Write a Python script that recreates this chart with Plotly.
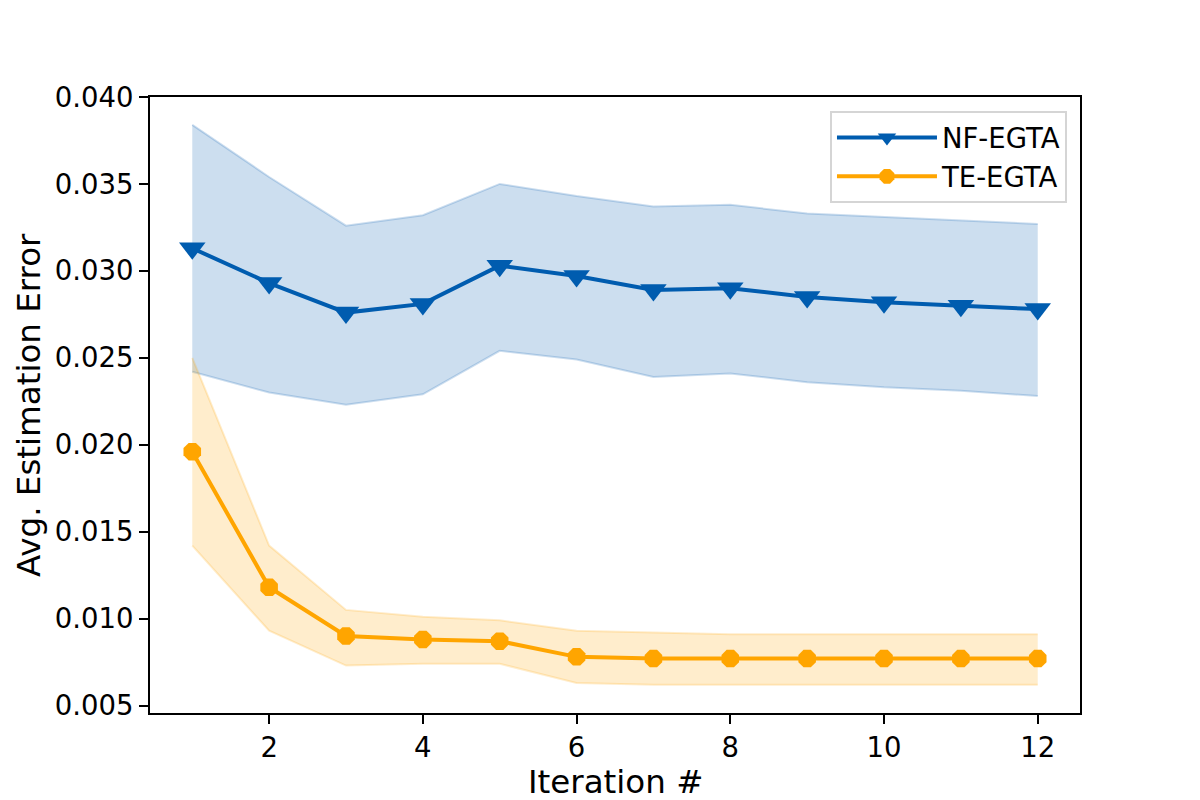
import plotly.graph_objects as go

# iteration numbers
iterations = list(range(1, 13))

# NF-EGTA: mean and band edges
nf_mean = [0.0313, 0.0293, 0.0276, 0.0281, 0.0303, 0.0297,
           0.0289, 0.0290, 0.0285, 0.0282, 0.0280, 0.0278]
nf_upper = [0.0384, 0.0354, 0.0326, 0.0332, 0.0350, 0.0343,
            0.0337, 0.0338, 0.0333, 0.0331, 0.0329, 0.0327]
nf_lower = [0.0242, 0.0230, 0.0223, 0.0229, 0.0254, 0.0249,
            0.0239, 0.0241, 0.0236, 0.0233, 0.0231, 0.0228]

# TE-EGTA: mean and band edges
te_mean = [0.0196, 0.0118, 0.0090, 0.0088, 0.0087, 0.0078,
           0.0077, 0.0077, 0.0077, 0.0077, 0.0077, 0.0077]
te_upper = [0.0250, 0.0142, 0.0105, 0.0101, 0.0099, 0.0093,
            0.0092, 0.0091, 0.0091, 0.0091, 0.0091, 0.0091]
te_lower = [0.0142, 0.0093, 0.0073, 0.0074, 0.0074, 0.0063,
            0.0062, 0.0062, 0.0062, 0.0062, 0.0062, 0.0062]

y_ticks = [0.005, 0.010, 0.015, 0.020, 0.025, 0.030, 0.035, 0.040]
x_ticks = [2, 4, 6, 8, 10, 12]

blue = "rgb(0,92,175)"
orange = "rgb(255,165,0)"
font = "DejaVu Sans"

fig = go.Figure()

# shaded bands
for lo, hi, rgb in [(nf_lower, nf_upper, "0,92,175"),
                    (te_lower, te_upper, "255,165,0")]:
    fig.add_trace(go.Scatter(
        x=iterations, y=lo, mode="lines",
        line=dict(color=f"rgba({rgb},0.2)", width=2),
        showlegend=False, hoverinfo="skip"
    ))
    fig.add_trace(go.Scatter(
        x=iterations, y=hi, mode="lines", fill="tonexty",
        fillcolor=f"rgba({rgb},0.2)",
        line=dict(color=f"rgba({rgb},0.2)", width=2),
        showlegend=False, hoverinfo="skip"
    ))

fig.add_trace(go.Scatter(
    x=iterations, y=nf_mean, mode="lines+markers", name="NF-EGTA",
    legendgroup="nf",
    line=dict(color=blue, width=4),
    marker=dict(symbol="triangle-down", size=23, color=blue)
))
fig.add_trace(go.Scatter(
    x=iterations, y=te_mean, mode="lines+markers", name="TE-EGTA",
    legendgroup="te",
    line=dict(color=orange, width=4),
    marker=dict(symbol="octagon", size=19, color=orange)
))

axis_style = dict(
    showgrid=False, zeroline=False, automargin=False,
    showline=True, linecolor="black", linewidth=2.2, mirror=True,
    ticks="outside", ticklen=9, tickwidth=2.2, tickcolor="black",
    tickfont=dict(family=font, size=27.5, color="black"),
)

# axis titles as annotations so their position can be set exactly
fig.add_annotation(text="Iteration #", xref="paper", yref="paper",
                   x=0.5, y=0, yanchor="middle", yshift=-69,
                   showarrow=False, borderpad=0,
                   font=dict(family=font, size=32.5))
fig.add_annotation(text="Avg. Estimation Error", xref="paper", yref="paper",
                   x=0, y=0.5, xanchor="center", xshift=-121, textangle=-90,
                   showarrow=False, borderpad=0,
                   font=dict(family=font, size=32.5))

# page body adds ~8px offset, so margins are shifted to compensate
fig.update_layout(
    width=1200, height=800,
    margin=dict(l=142, r=128, t=89, b=95),
    paper_bgcolor="white", plot_bgcolor="white",
    font=dict(family=font, color="black"),
    xaxis=dict(
        axis_style,
        range=[0.45, 12.55],
        tickmode="array", tickvals=x_ticks,
    ),
    yaxis=dict(
        axis_style,
        range=[0.00457, 0.0400],
        tickmode="array", tickvals=y_ticks,
        tickformat=".3f",
    ),
    legend=dict(
        x=0.986, y=0.977, xanchor="right", yanchor="top",
        traceorder="normal",
        bgcolor="white", bordercolor="#d5d5d5", borderwidth=2,
        font=dict(family=font, size=27.5, color="black"),
        itemwidth=100, tracegroupgap=6,
    ),
)

fig.write_html("out.html")
